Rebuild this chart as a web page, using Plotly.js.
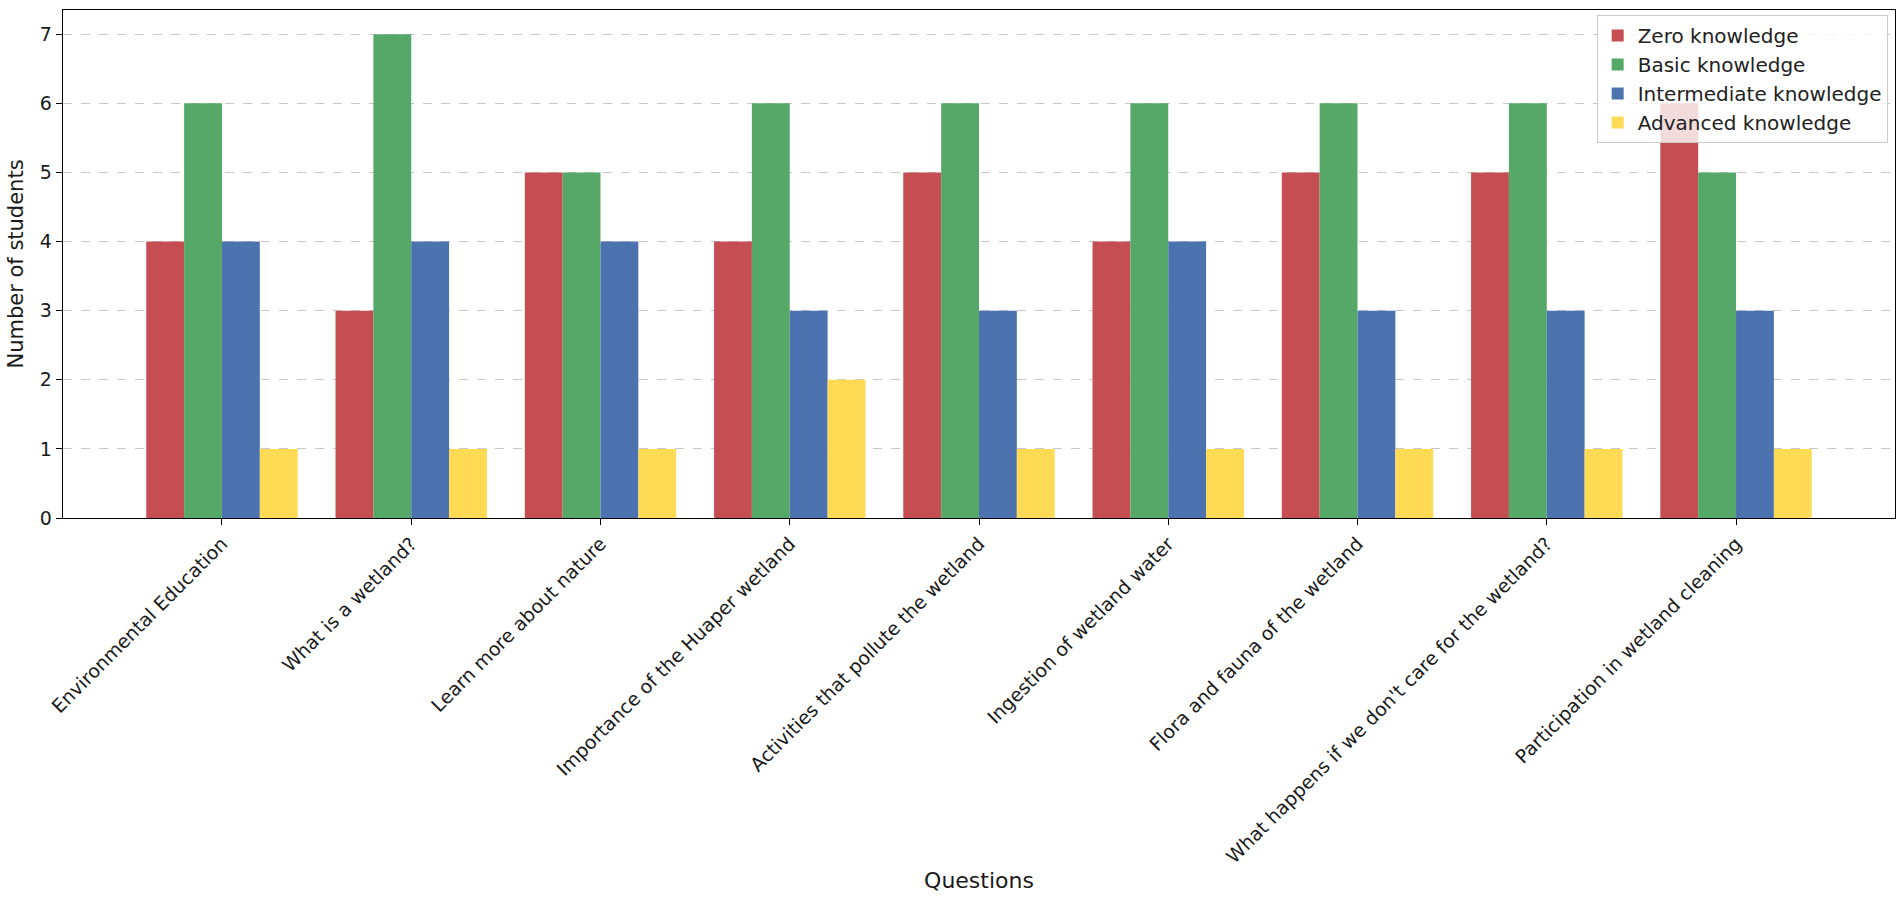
<!DOCTYPE html>
<html>
<head>
<meta charset="utf-8">
<script src="https://cdn.plot.ly/plotly-3.0.1.min.js"></script>
<style>
  html, body { margin: 0; padding: 0; background: #fff; }
  #chart { width: 1902px; height: 904px; }
</style>
</head>
<body>
<div id="chart"></div>
<script>
// questions on the x axis
var questions = [
  "Environmental Education",
  "What is a wetland?",
  "Learn more about nature",
  "Importance of the Huaper wetland",
  "Activities that pollute the wetland",
  "Ingestion of wetland water",
  "Flora and fauna of the wetland",
  "What happens if we don't care for the wetland?",
  "Participation in wetland cleaning"
];

// students per knowledge level
var zeroKnowledge = [4, 3, 5, 4, 5, 4, 5, 5, 6];
var basicKnowledge = [6, 7, 5, 6, 6, 6, 6, 6, 5];
var intermediateKnowledge = [4, 4, 4, 3, 3, 4, 3, 3, 3];
var advancedKnowledge = [1, 1, 1, 2, 1, 1, 1, 1, 1];

var seriesNames = ["Zero knowledge", "Basic knowledge", "Intermediate knowledge", "Advanced knowledge"];
var seriesColors = ["#C44E52", "#55A868", "#4C72B0", "#FFDA55"];
var seriesValues = [zeroKnowledge, basicKnowledge, intermediateKnowledge, advancedKnowledge];

var traces = seriesValues.map(function (vals, i) {
  return {
    type: "bar",
    name: seriesNames[i],
    x: questions,
    y: vals,
    marker: { color: seriesColors[i], line: { width: 0 } },
    hoverinfo: "x+y+name"
  };
});

var fam = "DejaVu Sans, sans-serif";

var layout = {
  width: 1902,
  height: 904,
  margin: { l: 63, r: 7, t: 10, b: 386 },
  paper_bgcolor: "#fff",
  plot_bgcolor: "#fff",
  font: { family: fam, color: "#222", size: 19 },
  barmode: "group",
  bargap: 0.2,
  bargroupgap: 0,
  showlegend: true,
  legend: {
    x: 0.996, xanchor: "right",
    y: 0.99, yanchor: "top",
    bgcolor: "rgba(255,255,255,0.8)",
    bordercolor: "#cccccc",
    borderwidth: 1,
    font: { family: fam, size: 20, color: "#222" },
    tracegroupgap: 0
  },
  xaxis: {
    type: "category",
    range: [-0.84, 8.84],
    tickangle: -45,
    ticks: "outside",
    ticklen: 6,
    tickcolor: "#000",
    showline: true,
    linecolor: "#000",
    linewidth: 1.3,
    mirror: true,
    showgrid: false,
    automargin: false,
    tickfont: { family: fam, size: 19, color: "#1a1a1a" },
    title: { text: "Questions", font: { family: fam, size: 22, color: "#1a1a1a" }, standoff: 6 }
  },
  yaxis: {
    range: [0, 7.35],
    dtick: 1,
    ticks: "outside",
    ticklen: 6,
    tickcolor: "#000",
    showline: true,
    linecolor: "#000",
    linewidth: 1.3,
    mirror: true,
    showgrid: true,
    gridcolor: "#c8c8c8",
    griddash: "dash",
    gridwidth: 1,
    zeroline: false,
    automargin: false,
    tickfont: { family: fam, size: 19, color: "#1a1a1a" },
    title: { text: "Number of students", font: { family: fam, size: 21, color: "#1a1a1a" }, standoff: 10 }
  }
};

Plotly.newPlot("chart", traces, layout, { displayModeBar: false, staticPlot: true });
</script>
</body>
</html>
